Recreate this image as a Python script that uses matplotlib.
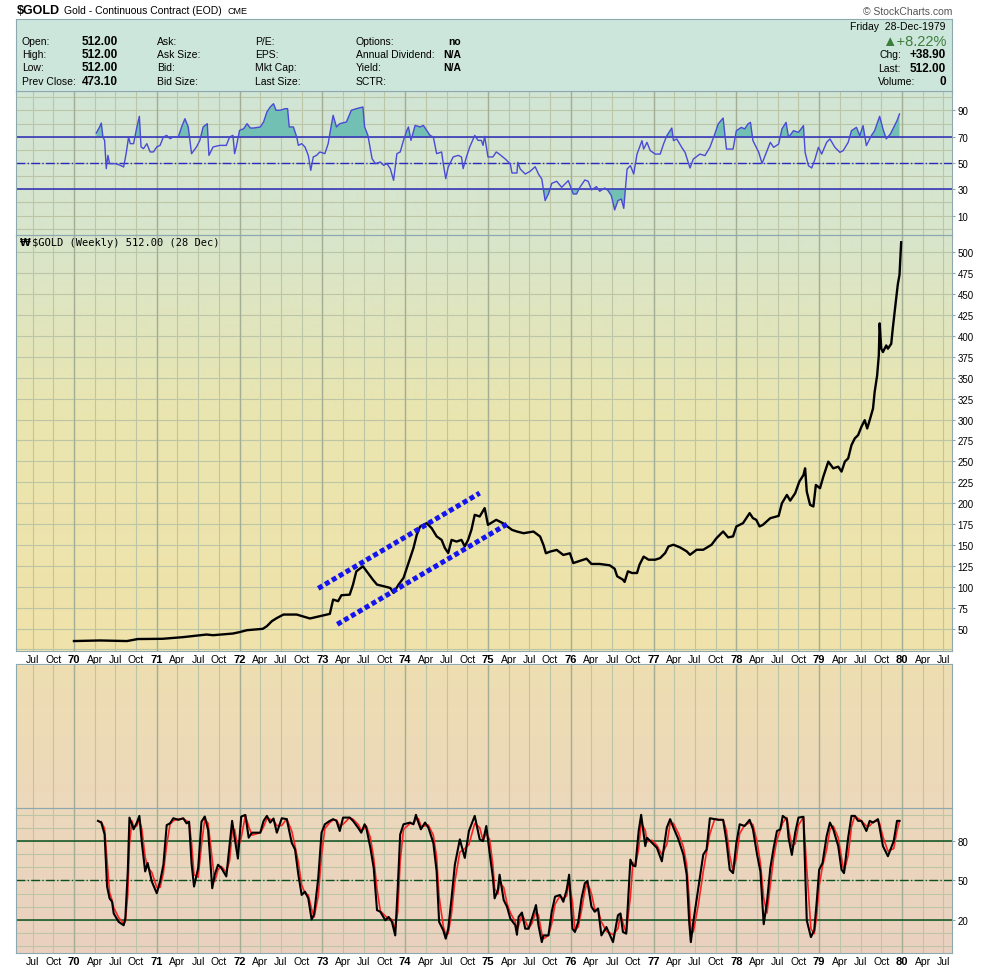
import numpy as np
import matplotlib
matplotlib.use("Agg")
import matplotlib.pyplot as plt
from matplotlib.patches import Rectangle

plt.rcParams['font.family'] = ['Liberation Sans', 'DejaVu Sans']

# weekly closes of $GOLD (decimal years)
price_t = [1970.00, 1970.31, 1970.64, 1970.77, 1971.07, 1971.32, 1971.60, 1971.68, 1971.92, 1972.00,
           1972.09, 1972.28, 1972.33, 1972.39, 1972.45, 1972.53, 1972.69, 1972.85, 1973.09, 1973.13,
           1973.19, 1973.23, 1973.33, 1973.37, 1973.41, 1973.49, 1973.55, 1973.61, 1973.66, 1973.74,
           1973.82, 1973.86, 1973.92, 1973.98, 1974.02, 1974.06, 1974.10, 1974.14, 1974.18, 1974.26,
           1974.32, 1974.38, 1974.44, 1974.48, 1974.52, 1974.56, 1974.62, 1974.68, 1974.72, 1974.76,
           1974.80, 1974.84, 1974.90, 1974.96, 1975.00, 1975.10, 1975.18, 1975.29, 1975.35, 1975.43,
           1975.55, 1975.63, 1975.67, 1975.70, 1975.75, 1975.83, 1975.91, 1975.99, 1976.03, 1976.09,
           1976.19, 1976.25, 1976.35, 1976.47, 1976.53, 1976.56, 1976.63, 1976.65, 1976.69, 1976.74,
           1976.80, 1976.83, 1976.88, 1976.94, 1977.02, 1977.08, 1977.14, 1977.18, 1977.24, 1977.32,
           1977.40, 1977.44, 1977.52, 1977.60, 1977.70, 1977.76, 1977.84, 1977.90, 1977.96, 1978.00,
           1978.08, 1978.16, 1978.20, 1978.24, 1978.28, 1978.32, 1978.41, 1978.51, 1978.55, 1978.61,
           1978.65, 1978.71, 1978.76, 1978.81, 1978.83, 1978.85, 1978.89, 1978.93, 1978.96, 1979.01,
           1979.05, 1979.11, 1979.17, 1979.23, 1979.27, 1979.31, 1979.35, 1979.39, 1979.43, 1979.47,
           1979.51, 1979.55, 1979.58, 1979.61, 1979.65, 1979.67, 1979.70, 1979.72, 1979.73, 1979.75,
           1979.77, 1979.81, 1979.83, 1979.87, 1979.89, 1979.91, 1979.93, 1979.95, 1979.97, 1979.99]
price_v = [35.0, 35.7, 35.0, 37.4, 37.7, 39.7, 42.8, 42.0, 44.0, 45.7,
           48.0, 49.6, 52.8, 58.8, 62.5, 66.7, 66.7, 62.0, 67.5, 84.6,
           82.7, 89.8, 90.5, 102.5, 118.4, 124.4, 116.4, 108.4, 102.5, 100.6,
           98.5, 92.6, 102.5, 110.5, 122.4, 134.3, 146.2, 162.0, 172.0, 176.0,
           170.0, 160.2, 156.0, 146.2, 140.3, 156.0, 154.0, 156.0, 148.2, 156.0,
           168.0, 186.0, 184.0, 194.0, 174.0, 180.0, 176.0, 168.0, 166.0, 164.0,
           166.0, 160.0, 150.0, 140.0, 142.0, 144.0, 138.0, 140.0, 128.3, 130.3,
           133.5, 127.2, 127.2, 125.6, 121.5, 112.5, 108.4, 105.7, 118.4, 116.4,
           116.4, 126.3, 136.0, 132.3, 132.3, 134.3, 140.3, 148.2, 150.2, 147.0,
           142.3, 138.2, 144.2, 144.2, 150.2, 158.1, 166.1, 159.0, 160.2, 172.1,
           176.0, 188.0, 182.0, 180.0, 172.1, 174.0, 182.0, 184.7, 199.9, 209.8,
           203.0, 211.8, 225.7, 233.6, 241.6, 213.8, 197.9, 196.0, 221.7, 217.8,
           231.7, 249.6, 241.6, 243.6, 237.7, 249.6, 253.5, 269.4, 277.4, 281.3,
           291.3, 299.2, 289.3, 299.2, 313.1, 333.0, 352.8, 376.7, 415.0, 384.7,
           380.7, 388.6, 384.7, 390.6, 410.0, 428.0, 445.0, 462.0, 473.1, 512.0]

# RSI(14)
rsi_t = [1970.27, 1970.31, 1970.33, 1970.35, 1970.37, 1970.39, 1970.41, 1970.43, 1970.50, 1970.56,
         1970.60, 1970.63, 1970.66, 1970.68, 1970.72, 1970.76, 1970.79, 1970.81, 1970.84, 1970.88,
         1970.92, 1970.96, 1971.00, 1971.04, 1971.08, 1971.12, 1971.16, 1971.20, 1971.26, 1971.30,
         1971.34, 1971.38, 1971.42, 1971.48, 1971.52, 1971.56, 1971.61, 1971.63, 1971.68, 1971.76,
         1971.84, 1971.88, 1971.92, 1971.94, 1971.96, 1972.00, 1972.05, 1972.09, 1972.13, 1972.17,
         1972.25, 1972.29, 1972.33, 1972.37, 1972.41, 1972.44, 1972.49, 1972.55, 1972.58, 1972.60,
         1972.65, 1972.69, 1972.71, 1972.75, 1972.79, 1972.83, 1972.86, 1972.89, 1972.93, 1972.97,
         1973.03, 1973.07, 1973.09, 1973.13, 1973.17, 1973.21, 1973.29, 1973.35, 1973.41, 1973.49,
         1973.51, 1973.55, 1973.60, 1973.64, 1973.70, 1973.74, 1973.78, 1973.82, 1973.86, 1973.90,
         1973.94, 1973.98, 1974.02, 1974.04, 1974.07, 1974.12, 1974.18, 1974.22, 1974.26, 1974.30,
         1974.34, 1974.38, 1974.44, 1974.46, 1974.49, 1974.52, 1974.58, 1974.64, 1974.68, 1974.70,
         1974.74, 1974.78, 1974.84, 1974.88, 1974.92, 1974.94, 1974.96, 1975.00, 1975.06, 1975.10,
         1975.14, 1975.21, 1975.27, 1975.29, 1975.35, 1975.36, 1975.39, 1975.45, 1975.51, 1975.57,
         1975.61, 1975.65, 1975.69, 1975.73, 1975.77, 1975.83, 1975.89, 1975.97, 1976.03, 1976.07,
         1976.11, 1976.17, 1976.21, 1976.25, 1976.31, 1976.35, 1976.41, 1976.45, 1976.49, 1976.53,
         1976.57, 1976.61, 1976.64, 1976.68, 1976.72, 1976.76, 1976.80, 1976.86, 1976.88, 1976.92,
         1976.96, 1977.02, 1977.08, 1977.12, 1977.16, 1977.22, 1977.24, 1977.28, 1977.34, 1977.38,
         1977.44, 1977.48, 1977.56, 1977.62, 1977.68, 1977.74, 1977.78, 1977.84, 1977.88, 1977.96,
         1978.00, 1978.06, 1978.10, 1978.14, 1978.17, 1978.20, 1978.27, 1978.31, 1978.37, 1978.41,
         1978.45, 1978.51, 1978.55, 1978.60, 1978.63, 1978.69, 1978.75, 1978.81, 1978.83, 1978.87,
         1978.91, 1978.95, 1978.99, 1979.03, 1979.09, 1979.13, 1979.19, 1979.25, 1979.29, 1979.35,
         1979.39, 1979.45, 1979.49, 1979.53, 1979.57, 1979.63, 1979.67, 1979.73, 1979.77, 1979.81,
         1979.86, 1979.90, 1979.94, 1979.97]
rsi_v = [72.8, 77.4, 80.4, 69.8, 67.2, 45.7, 55.8, 49.5, 49.5, 48.2,
         47.0, 57.1, 69.8, 64.7, 64.7, 77.4, 85.5, 62.2, 60.9, 64.7,
         58.4, 58.4, 62.2, 63.4, 69.8, 71.0, 68.5, 69.8, 69.8, 77.4,
         83.7, 77.4, 57.1, 62.2, 67.2, 77.4, 79.9, 55.8, 62.2, 63.4,
         63.4, 69.8, 71.0, 57.1, 62.2, 74.8, 76.1, 79.9, 76.6, 76.6,
         77.4, 81.2, 88.8, 92.6, 95.1, 90.1, 90.1, 91.3, 91.3, 77.4,
         77.4, 69.8, 63.4, 64.7, 62.2, 55.8, 44.4, 54.6, 55.8, 58.4,
         57.1, 64.7, 72.3, 86.3, 77.4, 79.9, 81.2, 90.1, 91.3, 92.6,
         77.4, 71.0, 53.3, 49.5, 50.8, 48.2, 49.5, 45.7, 36.8, 57.1,
         58.4, 67.2, 74.8, 77.4, 67.2, 78.6, 77.4, 78.6, 74.8, 71.0,
         69.8, 57.1, 58.4, 49.5, 38.1, 47.0, 54.6, 55.8, 54.6, 45.7,
         54.6, 62.2, 71.0, 67.2, 67.2, 63.4, 70.3, 54.6, 54.6, 58.4,
         56.6, 53.0, 49.2, 42.4, 42.4, 50.5, 45.4, 41.6, 43.7, 47.2,
         41.6, 37.8, 21.4, 26.4, 34.5, 36.1, 31.5, 36.6, 26.4, 26.4,
         31.5, 37.1, 36.1, 29.5, 32.0, 28.5, 31.0, 29.0, 25.2, 14.3,
         21.4, 22.6, 15.5, 45.4, 48.0, 41.6, 56.8, 67.0, 60.6, 65.7,
         59.4, 56.8, 56.8, 64.4, 70.8, 76.6, 67.0, 68.3, 61.9, 58.1,
         46.2, 53.0, 56.8, 55.6, 61.9, 72.1, 79.7, 84.2, 60.6, 60.6,
         74.6, 77.1, 75.9, 79.7, 80.9, 67.0, 58.1, 49.7, 59.4, 65.7,
         61.9, 64.4, 75.9, 80.9, 69.5, 74.6, 73.3, 78.4, 58.1, 48.0,
         46.2, 53.0, 61.9, 56.8, 65.7, 68.3, 61.9, 58.1, 59.4, 65.7,
         74.6, 77.1, 70.8, 78.4, 63.2, 70.8, 74.6, 85.5, 75.9, 68.3,
         72.1, 77.1, 82.2, 87.3]

# slow stochastic %K
stoch_t = [1970.29, 1970.33, 1970.37, 1970.40, 1970.43, 1970.46, 1970.48, 1970.54, 1970.60, 1970.62,
           1970.65, 1970.67, 1970.70, 1970.72, 1970.76, 1970.79, 1970.82, 1970.86, 1970.89, 1970.94,
           1971.00, 1971.04, 1971.08, 1971.12, 1971.16, 1971.20, 1971.26, 1971.32, 1971.36, 1971.39,
           1971.42, 1971.45, 1971.50, 1971.54, 1971.58, 1971.62, 1971.67, 1971.70, 1971.74, 1971.78,
           1971.84, 1971.88, 1971.91, 1971.94, 1971.98, 1972.02, 1972.07, 1972.11, 1972.15, 1972.25,
           1972.29, 1972.33, 1972.37, 1972.41, 1972.45, 1972.51, 1972.57, 1972.63, 1972.67, 1972.71,
           1972.75, 1972.79, 1972.83, 1972.87, 1972.90, 1972.95, 1972.99, 1973.03, 1973.09, 1973.13,
           1973.17, 1973.21, 1973.25, 1973.33, 1973.37, 1973.43, 1973.47, 1973.51, 1973.53, 1973.58,
           1973.62, 1973.66, 1973.70, 1973.76, 1973.80, 1973.84, 1973.88, 1973.91, 1973.94, 1973.98,
           1974.06, 1974.10, 1974.13, 1974.16, 1974.19, 1974.24, 1974.28, 1974.34, 1974.38, 1974.41,
           1974.46, 1974.49, 1974.52, 1974.56, 1974.60, 1974.66, 1974.72, 1974.77, 1974.84, 1974.90,
           1974.94, 1974.98, 1975.02, 1975.06, 1975.08, 1975.12, 1975.14, 1975.19, 1975.23, 1975.27,
           1975.33, 1975.35, 1975.37, 1975.41, 1975.45, 1975.49, 1975.53, 1975.58, 1975.61, 1975.65,
           1975.67, 1975.73, 1975.77, 1975.81, 1975.87, 1975.91, 1975.95, 1975.98, 1976.02, 1976.05,
           1976.09, 1976.13, 1976.17, 1976.20, 1976.25, 1976.29, 1976.33, 1976.37, 1976.43, 1976.51,
           1976.57, 1976.60, 1976.63, 1976.67, 1976.72, 1976.75, 1976.78, 1976.82, 1976.85, 1976.90,
           1976.92, 1976.98, 1977.04, 1977.10, 1977.16, 1977.20, 1977.24, 1977.30, 1977.36, 1977.40,
           1977.43, 1977.45, 1977.48, 1977.54, 1977.60, 1977.64, 1977.68, 1977.74, 1977.78, 1977.84,
           1977.88, 1977.92, 1977.96, 1978.00, 1978.04, 1978.10, 1978.16, 1978.20, 1978.25, 1978.29,
           1978.33, 1978.37, 1978.41, 1978.45, 1978.49, 1978.53, 1978.56, 1978.61, 1978.63, 1978.67,
           1978.71, 1978.75, 1978.81, 1978.85, 1978.90, 1978.94, 1978.97, 1979.00, 1979.04, 1979.09,
           1979.13, 1979.17, 1979.23, 1979.27, 1979.30, 1979.35, 1979.39, 1979.43, 1979.47, 1979.51,
           1979.57, 1979.61, 1979.65, 1979.71, 1979.73, 1979.77, 1979.83, 1979.90, 1979.94, 1979.97]
stoch_k = [95.4, 94.1, 85.1, 45.4, 36.4, 33.8, 24.9, 18.5, 15.9, 21.0,
           56.9, 97.9, 92.8, 89.0, 94.1, 99.2, 78.7, 56.9, 63.3, 49.2,
           40.3, 49.2, 62.0, 92.2, 93.5, 97.4, 96.2, 97.4, 93.5, 94.8,
           63.3, 45.4, 59.5, 94.8, 98.7, 88.4, 44.1, 54.4, 62.0, 59.5,
           53.1, 77.4, 95.4, 82.6, 66.7, 98.7, 99.9, 82.6, 86.4, 86.4,
           95.4, 99.2, 94.1, 97.2, 86.4, 97.4, 96.7, 78.7, 73.6, 54.4,
           39.0, 41.5, 36.4, 20.3, 24.1, 51.8, 86.4, 92.8, 95.4, 96.7,
           95.4, 87.7, 97.9, 97.9, 95.4, 90.3, 86.4, 92.8, 90.3, 74.9,
           59.5, 27.4, 26.2, 19.7, 22.3, 18.5, 8.2, 44.1, 85.1, 92.8,
           94.1, 92.8, 100.0, 94.1, 89.0, 94.1, 90.3, 78.7, 56.9, 18.5,
           12.1, 5.7, 13.3, 36.4, 62.0, 81.3, 67.2, 87.7, 99.2, 81.3,
           80.0, 91.5, 71.0, 51.8, 36.4, 42.8, 54.4, 35.1, 30.0, 21.0,
           15.9, 8.7, 22.3, 25.6, 13.3, 13.3, 21.0, 31.3, 15.9, 3.1,
           8.2, 8.2, 26.2, 37.7, 39.0, 33.8, 42.8, 54.4, 13.3, 10.8,
           18.5, 36.4, 48.0, 49.7, 30.0, 26.2, 28.7, 8.2, 14.6, 3.1,
           23.6, 24.9, 10.8, 9.5, 65.9, 61.5, 60.8, 87.7, 100.0, 76.2,
           82.6, 78.7, 74.9, 64.6, 90.3, 96.7, 90.3, 81.3, 69.7, 54.4,
           18.5, 3.1, 18.5, 44.1, 69.7, 73.6, 97.4, 96.7, 96.2, 96.2,
           80.0, 58.2, 55.6, 78.7, 92.8, 91.5, 96.2, 89.0, 69.7, 56.9,
           16.7, 33.8, 59.5, 74.9, 87.7, 89.0, 99.2, 96.7, 82.6, 69.5,
           86.4, 97.9, 98.5, 19.7, 6.9, 12.1, 33.8, 58.2, 63.3, 83.8,
           94.1, 89.0, 76.2, 58.2, 55.6, 82.6, 99.2, 99.2, 95.4, 95.4,
           87.7, 95.4, 94.1, 96.7, 90.3, 76.2, 68.5, 80.0, 95.4, 95.4]

# hand-drawn trend channel
chan_hi_t = [1972.95, 1974.90]
chan_hi_v = [98.0, 212.0]
chan_lo_t = [1973.18, 1975.25]
chan_lo_v = [55.0, 176.0]

price_ticks = list(range(50, 501, 25))
rsi_ticks = [10, 30, 50, 70, 90]
stoch_ticks = [20, 50, 80]
quarters = np.arange(1969.5, 1980.51, 0.25)
years = np.arange(1970, 1981)
month_names = {1: 'Apr', 2: 'Jul', 3: 'Oct'}

W, H = 990, 970
L, R = 16, 952
X0, X1 = 1969.30, 1980.604
SPINE = '#8ea8b0'
GRID = '#bcc5a6'
YGRID = '#a3ae95'

fig = plt.figure(figsize=(W / 100, H / 100), dpi=100)


def rect(top, bottom):
    return [L / W, 1 - bottom / H, (R - L) / W, (bottom - top) / H]


def ftext(x, y, s, **kw):
    kw.setdefault('va', 'center')
    fig.text(x / W, 1 - y / H, s, **kw)


# background gradient behind all panels
bg = fig.add_axes([0, 0, 1, 1], zorder=0)
stops_y = [20, 236, 420, 650, 665, 809, 954]
stops_c = np.array([[206, 229, 219], [216, 229, 203], [234, 229, 175], [240, 226, 170],
                    [238, 222, 177], [236, 216, 187], [234, 209, 192]]) / 255
yy = np.arange(20, 955)
grad = np.stack([np.interp(yy, stops_y, stops_c[:, i]) for i in range(3)], axis=1)[:, None, :]
bg.imshow(grad, extent=[L, R, 954, 20], aspect='auto', interpolation='bilinear')
bg.add_patch(Rectangle((L, 652), R - L, 13, color='white'))
bg.set_xlim(0, W)
bg.set_ylim(H, 0)
bg.axis('off')


def setup(ax, ylim, hgrid=(), ticks=None):
    ax.set_facecolor('none')
    ax.set_xlim(X0, X1)
    ax.set_ylim(*ylim)
    for s in ax.spines.values():
        s.set_color(SPINE)
    for q in quarters:
        ax.axvline(q, color=GRID, lw=0.8, zorder=0.5)
    for yr in years:
        ax.axvline(yr, color=YGRID, lw=1.0, zorder=0.6)
    for h in hgrid:
        ax.axhline(h, color=GRID, lw=0.8, zorder=0.5)
    ax.set_xticks(quarters)
    ax.tick_params(axis='x', length=0, labelbottom=False)
    ax.yaxis.tick_right()
    if ticks is None:
        ax.set_yticks([])
    else:
        ax.set_yticks(ticks)
        ax.tick_params(axis='y', length=2, color=SPINE, labelsize=7, pad=2)


def date_labels(ax):
    labels = []
    for q in quarters:
        qi = int(round((q % 1) * 4))
        labels.append(f"{int(q) % 100:02d}" if qi == 0 else month_names[qi])
    ax.set_xticklabels(labels)
    ax.tick_params(axis='x', labelbottom=True, labelsize=7.5, pad=2)
    for lab, q in zip(ax.get_xticklabels(), quarters):
        if abs(q % 1) < 1e-6:
            lab.set_fontweight('bold')
            lab.set_fontsize(8)


# RSI panel
ax_rsi = fig.add_axes(rect(92, 236), zorder=1)
setup(ax_rsi, (-4.75, 104.75), hgrid=range(0, 101, 10), ticks=rsi_ticks)
rt = np.array(rsi_t)
rv = np.array(rsi_v)
ax_rsi.fill_between(rt, rv, 70, where=rv >= 70, interpolate=True, color='#72c0b3', lw=0, zorder=1)
ax_rsi.fill_between(rt, rv, 30, where=rv <= 30, interpolate=True, color='#72c0b3', lw=0, zorder=1)
ax_rsi.axhline(70, color='#2a2abb', lw=1.1, zorder=1.5)
ax_rsi.axhline(30, color='#2a2abb', lw=1.1, zorder=1.5)
ax_rsi.axhline(50, color='#2a2abb', lw=1.0, ls='-.', zorder=1.5)
ax_rsi.plot(rt, rv, color='#4a4ad6', lw=1.0, zorder=2)

# info box on top of RSI panel
info = fig.add_axes(rect(20, 92), zorder=2)
info.set_facecolor('#cde6dc')
info.set_xticks([])
info.set_yticks([])
for s in info.spines.values():
    s.set_color(SPINE)

rows_y = [41.7, 55, 68.3, 81.7]
col1 = ['Open:', 'High:', 'Low:', 'Prev Close:']
col1_v = ['512.00', '512.00', '512.00', '473.10']
col2 = ['Ask:', 'Ask Size:', 'Bid:', 'Bid Size:']
col3 = ['P/E:', 'EPS:', 'Mkt Cap:', 'Last Size:']
col4 = ['Options:', 'Annual Dividend:', 'Yield:', 'SCTR:']
col4_v = ['no', 'N/A', 'N/A', '']
for i, y in enumerate(rows_y):
    ftext(22, y, col1[i], fontsize=7.5, zorder=5)
    ftext(82, y, col1_v[i], fontsize=8.5, fontweight='bold', zorder=5)
    ftext(157, y, col2[i], fontsize=7.5, zorder=5)
    ftext(255, y, col3[i], fontsize=7.5, zorder=5)
    ftext(356, y, col4[i], fontsize=7.5, zorder=5)
    if col4_v[i]:
        ftext(461, y, col4_v[i], fontsize=7.5, fontweight='bold', ha='right', zorder=5)

ftext(946, 26.7, 'Friday  28-Dec-1979', fontsize=7.5, ha='right', zorder=5)
ftext(946, 41.5, '\u25B2+8.22%', fontsize=10.5, color='#3b7d3b', ha='right', zorder=5,
      family=['Liberation Sans', 'DejaVu Sans'])
right_lab = ['Chg:', 'Last:', 'Volume:']
right_val = ['+38.90', '512.00', '0']
for i, y in enumerate([55, 68.7, 82.3]):
    ftext(878 if i else 880, y, right_lab[i], fontsize=7.5, zorder=5)
    ftext(946, y, right_val[i], fontsize=8.5, fontweight='bold', ha='right', zorder=5)

# header
ftext(17, 11, '$GOLD', fontsize=9, fontweight='bold')
ftext(64, 11.5, 'Gold - Continuous Contract (EOD)', fontsize=7.5)
ftext(228, 12, 'CME', fontsize=6.5)
ftext(952, 12, '\u00A9 StockCharts.com', fontsize=7.5, color='#555555', ha='right')

# price panel
ax_p = fig.add_axes(rect(236, 652), zorder=1)
setup(ax_p, (23.1, 520.7), hgrid=range(25, 501, 25), ticks=price_ticks)
ax_p.plot(price_t, price_v, color='black', lw=1.7, zorder=2)
ax_p.plot(chan_hi_t, chan_hi_v, color='#1414f0', lw=3.6, ls=(0, (1, 0.6)),
          dash_capstyle='butt', zorder=3)
ax_p.plot(chan_lo_t, chan_lo_v, color='#1414f0', lw=3.6, ls=(0, (1, 0.6)),
          dash_capstyle='butt', zorder=3)
date_labels(ax_p)
ftext(20, 243.5, '\u20A9', fontsize=7, fontweight='bold', family=['DejaVu Sans'], zorder=5)
ftext(32, 243.5, '$GOLD (Weekly) 512.00 (28 Dec)', fontsize=7.5,
      family=['DejaVu Sans Mono'], zorder=5)

# empty panel between price and stochastics
ax_e = fig.add_axes(rect(665, 809), zorder=1)
setup(ax_e, (0, 1))

# slow stochastics panel
ax_s = fig.add_axes(rect(809, 954), zorder=1)
setup(ax_s, (-5.2, 105.2), hgrid=range(0, 101, 10), ticks=stoch_ticks)
ax_s.axhline(80, color='#0d4f20', lw=1.1, zorder=1.5)
ax_s.axhline(20, color='#0d4f20', lw=1.1, zorder=1.5)
ax_s.axhline(50, color='#0d4f20', lw=1.0, ls='-.', zorder=1.5)
k = np.array(stoch_k)
# %D signal: average of each %K reading with the one before it
d = (k[1:] + k[:-1]) / 2
ax_s.plot(stoch_t[1:], d, color='#ff2222', lw=1.2, zorder=2)
ax_s.plot(stoch_t, k, color='black', lw=1.5, zorder=2.5)
date_labels(ax_s)

fig.savefig('out.png', dpi=100)
